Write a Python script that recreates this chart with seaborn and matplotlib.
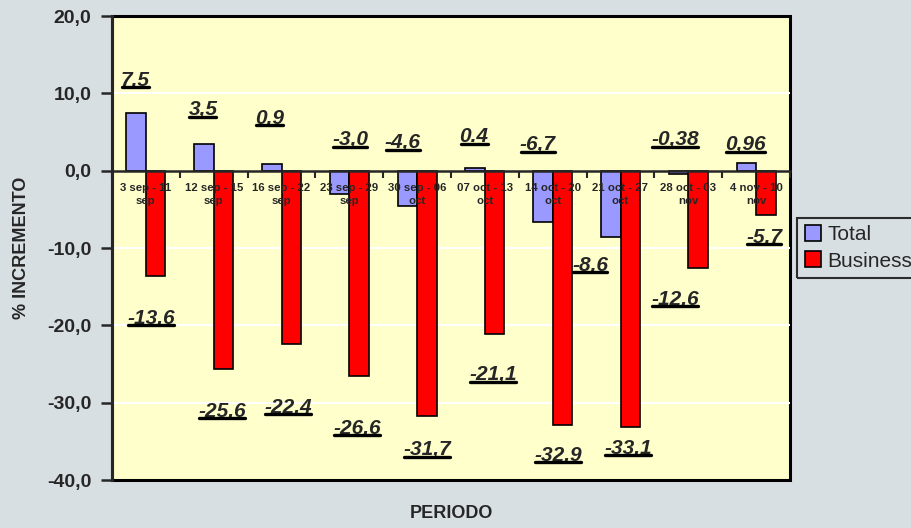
import numpy as np
import pandas as pd
import matplotlib
matplotlib.use("Agg")
import matplotlib.pyplot as plt
from matplotlib.lines import Line2D
import seaborn as sns

# ---------------- data ----------------
periods = ["3 sep - 11\nsep", "12 sep - 15\nsep", "16 sep - 22\nsep", "23 sep - 29\nsep",
           "30 sep - 06\noct", "07 oct - 13\noct", "14 oct - 20\noct", "21 oct - 27\noct",
           "28 oct - 03\nnov", "4 nov - 10\nnov"]
total_vals = [7.5, 3.5, 0.9, -3.0, -4.6, 0.4, -6.7, -8.6, -0.38, 0.96]
business_vals = [-13.6, -25.6, -22.4, -26.6, -31.7, -21.1, -32.9, -33.1, -12.6, -5.7]
total_labels = ["7,5", "3,5", "0,9", "-3,0", "-4,6", "0.4", "-6,7", "-8.6", "-0,38", "0,96"]
business_labels = ["-13.6", "-25.6", "-22,4", "-26.6", "-31,7", "-21,1", "-32,9", "-33,1", "-12,6", "-5,7"]
yticks = [20, 10, 0, -10, -20, -30, -40]
ytick_labels = ["20,0", "10,0", "0,0", "-10,0", "-20,0", "-30,0", "-40,0"]

# label placement (layout, in axis units: category position, y value)
total_label_pos = [(-0.16, 11.7), (0.84, 7.85), (1.82, 6.8), (3.01, 3.97), (3.79, 3.58),
                   (4.84, 4.36), (5.78, 3.32), (6.55, -12.2), (7.80, 3.97), (8.84, 3.32)]
business_label_pos = [(0.075, -19.06), (1.12, -31.1), (2.10, -30.6), (3.11, -33.3), (4.15, -36.1),
                      (5.12, -26.4), (6.08, -36.8), (7.11, -35.9), (7.80, -16.6), (9.12, -8.6)]

df = pd.DataFrame({
    "periodo": periods * 2,
    "serie": ["Total"] * len(periods) + ["Business"] * len(periods),
    "valor": total_vals + business_vals,
})

# ---------------- figure ----------------
sns.set_style("white")
plt.rcParams["font.family"] = ["Liberation Sans", "DejaVu Sans"]

fig = plt.figure(figsize=(9.11, 5.28), dpi=100, facecolor="#d8dfe3")
ax = fig.add_axes([112 / 911, 1 - 480 / 528, 678 / 911, 464 / 528])
ax.set_facecolor("#FFFFCC")
ax.set_axisbelow(False)

sns.barplot(data=df, x="periodo", y="valor", hue="serie", order=periods,
            hue_order=["Total", "Business"],
            palette={"Total": "#9999FF", "Business": "#FF0000"},
            width=0.575, edgecolor="black", linewidth=1.2, saturation=1,
            ax=ax, legend=False)

ax.set_xlim(-0.5, len(periods) - 0.5)
ax.set_ylim(-40, 20)

# gridlines (white)
for g in [10, -10, -20, -30]:
    ax.axhline(g, color="white", lw=1.5, zorder=0.5)

# spines / border
ax.patch.set_edgecolor("black")
ax.patch.set_linewidth(2.2)
for s in ["top", "right"]:
    ax.spines[s].set_visible(False)
ax.spines["left"].set_linewidth(2.2)
ax.spines["bottom"].set_position(("data", 0))
ax.spines["bottom"].set_linewidth(1.8)

# y ticks
ax.set_yticks(yticks)
ax.set_yticklabels(ytick_labels, fontsize=14, fontweight="bold")
ax.tick_params(axis="y", direction="out", length=8, width=1.8, pad=7, left=True)

# x ticks: labels at centres, tick marks at boundaries
ax.set_xticks(range(len(periods)))
ax.set_xticklabels(periods, fontsize=8.2, fontweight="bold", linespacing=1.3)
ax.tick_params(axis="x", which="major", length=0, pad=9, bottom=True)
ax.set_xticks(np.arange(-0.5, len(periods), 1.0), minor=True)
ax.tick_params(axis="x", which="minor", direction="out", length=5, width=1.5, bottom=True)
ax.set_xlabel("")
ax.set_ylabel("% INCREMENTO", fontsize=13, fontweight="bold", labelpad=12)

fig.text(451 / 911, 1 - 513 / 528, "PERIODO", fontsize=13, fontweight="bold",
         ha="center", va="center")

# data labels
texts = []
for lab, (x, y) in zip(total_labels + business_labels, total_label_pos + business_label_pos):
    t = ax.text(x, y, lab, fontsize=15, fontweight="bold", fontstyle="italic",
                ha="center", va="center", zorder=6)
    texts.append(t)

# legend
handles = [Line2D([], [], marker="s", ls="", markersize=11, markerfacecolor="#9999FF",
                  markeredgecolor="black", markeredgewidth=1.2),
           Line2D([], [], marker="s", ls="", markersize=11, markerfacecolor="#FF0000",
                  markeredgecolor="black", markeredgewidth=1.2)]
leg = fig.legend(handles, ["Total", "Business"], loc="upper left",
                 bbox_to_anchor=(797 / 911, 1 - 218 / 528), fontsize=15,
                 frameon=True, fancybox=False, handlelength=0.8, handletextpad=0.3,
                 borderpad=0.35, labelspacing=0.35, borderaxespad=0)
leg.get_frame().set_edgecolor("black")
leg.get_frame().set_linewidth(1.5)
leg.get_frame().set_facecolor("none")

# underline the data labels
fig.canvas.draw()
renderer = fig.canvas.get_renderer()
inv = fig.transFigure.inverted()
for t in texts:
    bb = t.get_window_extent(renderer)
    ybase = bb.y0 + 2.5
    (x0, y0), (x1, _) = inv.transform([(bb.x0 + 1, ybase), (bb.x1 - 1, ybase)])
    fig.add_artist(Line2D([x0, x1], [y0, y0], transform=fig.transFigure,
                          color="black", lw=2.4, zorder=7))

fig.savefig("out.png", dpi=100, facecolor=fig.get_facecolor())
